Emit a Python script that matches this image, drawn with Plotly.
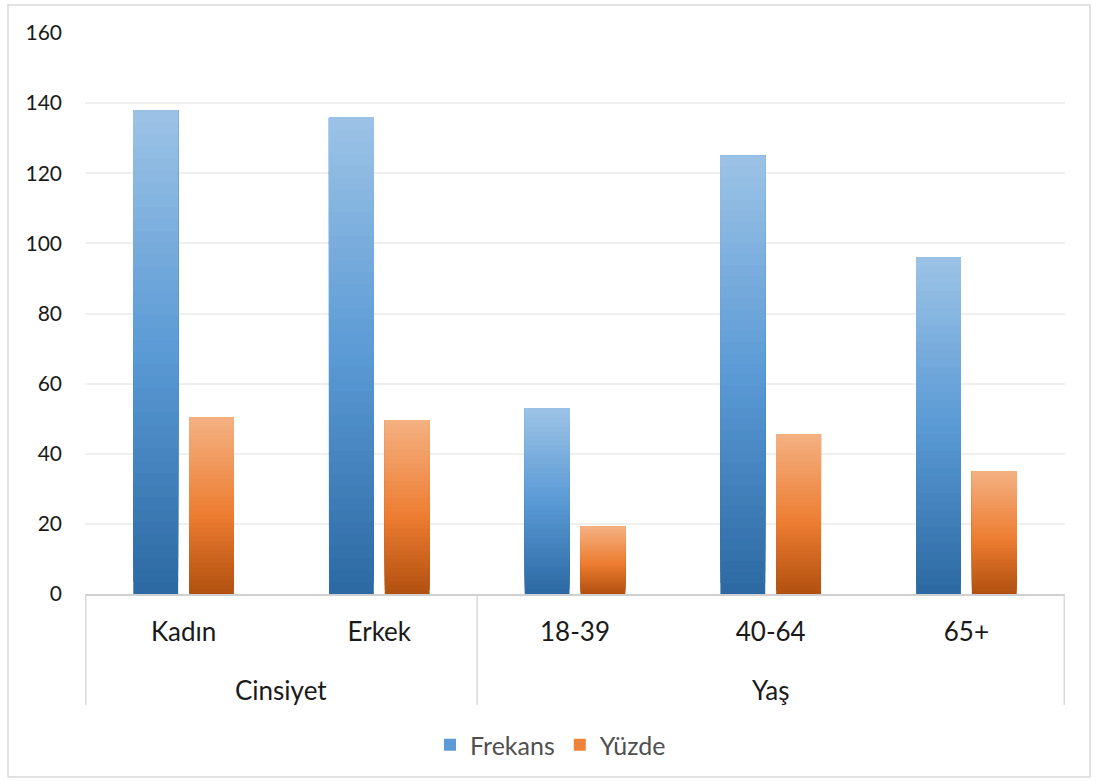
import plotly.graph_objects as go

groups = ["Cinsiyet", "Yaş"]
group_sizes = [2, 3]
categories = ["Kadın", "Erkek", "18-39", "40-64", "65+"]
frekans = [138, 136, 53, 125, 96]
yuzde = [50.4, 49.6, 19.3, 45.6, 35.0]
y_ticks = [0, 20, 40, 60, 80, 100, 120, 140, 160]

FONT = "Lato"
N_BANDS = 40

def hex2rgb(h):
    h = h.lstrip("#")
    return [int(h[i:i + 2], 16) for i in (0, 2, 4)]

def grad_color(stops, t):
    for (p0, c0), (p1, c1) in zip(stops[:-1], stops[1:]):
        if p0 <= t <= p1:
            f = (t - p0) / (p1 - p0) if p1 > p0 else 0
            a, b = hex2rgb(c0), hex2rgb(c1)
            r = [round(a[k] + (b[k] - a[k]) * f) for k in range(3)]
            return "rgb(%d,%d,%d)" % tuple(r)
    return stops[-1][1]

blue_stops = [(0.0, "#2C69A3"), (0.5, "#5A9AD5"), (1.0, "#9DC3E6")]
orange_stops = [(0.0, "#B1500F"), (0.45, "#ED7D31"), (1.0, "#F4B183")]

fig = go.Figure()

for name, vals, stops, og in [("Frekans", frekans, blue_stops, "f"),
                              ("Yüzde", yuzde, orange_stops, "y")]:
    for i in range(N_BANDS):
        t = (i + 0.5) / N_BANDS
        # each band spans from its start up to the bar top; later bands overlay earlier ones
        fig.add_trace(go.Bar(
            x=categories,
            y=[v * (N_BANDS - i) / N_BANDS for v in vals],
            base=[v * i / N_BANDS for v in vals],
            offsetgroup=og,
            name=name,
            legendgroup=name,
            showlegend=(i == N_BANDS // 2),
            marker=dict(color=grad_color(stops, t), line=dict(width=0)),
            hoverinfo="skip",
        ))

fig.update_layout(
    width=1096, height=781,
    margin=dict(l=85, r=31, t=33, b=187),
    paper_bgcolor="white", plot_bgcolor="white",
    barmode="group",
    bargap=0.43, bargroupgap=0.196,
    font=dict(family=FONT, color="#1a1a1a"),
    showlegend=True,
    legend=dict(orientation="h", x=0.475, xanchor="center",
                yref="container", y=1 - 745 / 781, yanchor="middle",
                font=dict(size=25, color="#505050", family=FONT),
                itemwidth=30, traceorder="normal"),
)

fig.update_xaxes(
    type="category", automargin=False,
    showline=True, linecolor="#D0D0D0", linewidth=1.5,
    tickfont=dict(size=26, color="#1a1a1a", family=FONT),
    ticklabelstandoff=14,
    showgrid=False, ticks="",
)
fig.update_yaxes(
    range=[0, 160], tickvals=y_ticks, automargin=False,
    showgrid=True, gridcolor="#EFEFEF", gridwidth=1.5,
    zeroline=False, showline=False,
    tickfont=dict(size=21, color="#1a1a1a", family=FONT),
    ticklabelstandoff=22,
)

# group labels and dividers (in category-index coordinates)
start = 0
div_y0 = -(705 - 594) / 561
fig.add_shape(type="line", xref="x", yref="paper", x0=start - 0.5, x1=start - 0.5,
              y0=0, y1=div_y0, line=dict(color="#D9D9D9", width=1.5))
for g, n in zip(groups, group_sizes):
    center = start + (n - 1) / 2
    fig.add_annotation(x=center, xref="x", y=-(690 - 594) / 561, yref="paper",
                       text=g, showarrow=False, yanchor="middle",
                       font=dict(size=26, color="#1a1a1a", family=FONT))
    start += n
    fig.add_shape(type="line", xref="x", yref="paper", x0=start - 0.5, x1=start - 0.5,
                  y0=0, y1=div_y0, line=dict(color="#D9D9D9", width=1.5))

# outer chart border
fig.add_shape(type="rect", xref="paper", yref="paper",
              x0=(8 - 85) / 980, x1=(1090 - 85) / 980,
              y0=-(777 - 594) / 561, y1=(594 - 5) / 561,
              line=dict(color="#D9D9D9", width=1.5), fillcolor="rgba(0,0,0,0)", layer="below")

fig.write_html("out.html")
